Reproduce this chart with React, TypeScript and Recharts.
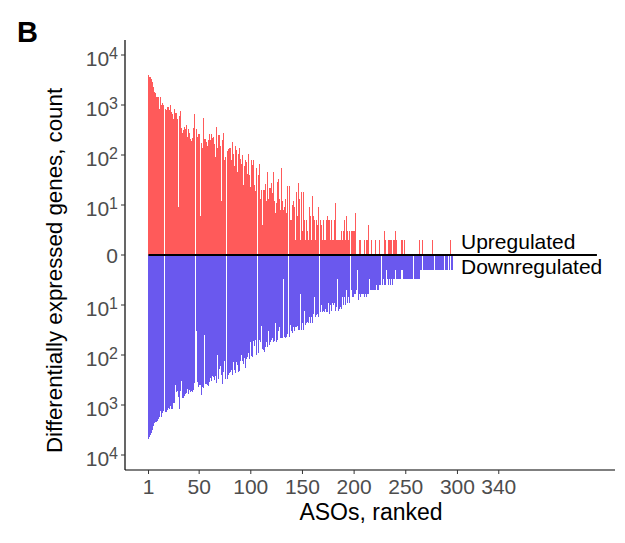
import React from 'react';
import { BarChart, Bar, XAxis, YAxis, ReferenceLine } from 'recharts';

// DE gene counts per ASO, ordered by rank (1 = most genes)
const upregulated = [
  3980, 3700, 3550, 3300, 2900, 2300, 1800, 1700, 1450, 1450,
  1450, 830, 1450, 1000, 1080, 1000, 830, 780, 930, 930,
  780, 980, 740, 660, 520, 850, 680, 680, 520, 9,
  590, 760, 340, 280, 316, 370, 330, 400, 225, 325,
  270, 210, 190, 215, 340, 660, 325, 233, 262, 262,
  6, 174, 138, 550, 210, 205, 186, 151, 200, 262,
  200, 262, 215, 233, 166, 93, 370, 141, 251, 251,
  151, 12, 200, 280, 81, 93, 123, 132, 141, 141,
  79, 182, 105, 60, 148, 126, 46, 107, 138, 85,
  66, 100, 25, 59, 79, 71, 42, 105, 40, 23,
  78, 63, 79, 25, 19, 56, 40, 66, 13, 20,
  4, 20, 20, 26, 12, 46, 13, 22, 22, 27,
  17, 46, 12, 7, 11, 29, 33, 13, 8, 55,
  12, 8, 9, 13, 7, 24, 24,
  5, 5, 10, 12, 9, 2, 18, 6, 28, 13,
  2, 18, 3, 18, 5, 2, 5, 3, 2, 9,
  6, 2, 15, 6, 5, 2, 5, 4, 9, 5,
  4, 2, 5, 2, 2, 5, 6, 5, 5, 2,
  5, 2, 2, 5, 11, 2, 2, 2, 2, 2,
  3, 2, 3, 5, 2, 6, 3, 2, 3, 3,
  3, 3, 3, 7, 0, 0, 0, 2, 2, 0,
  0, 0, 2, 0, 2, 2, 4, 0, 0, 2,
  0, 0, 0, 2, 0, 0, 0, 2, 0, 0,
  0, 3, 2, 0, 0, 2, 2, 2, 2, 0,
  2, 2, 3, 2, 0, 0, 0, 0, 2, 2,
  0, 2, 0, 0, 0, 0, 0, 0, 0, 0,
  0, 0, 0, 0, 0, 2, 0, 0, 2, 0,
  0, 0, 0, 0, 0, 0, 0, 0, 2, 0,
  0, 0, 0, 0, 0, 0, 0, 0, 0, 0,
  0, 0, 0, 0, 0, 2,
];

const downregulated = [
  4790, 4430, 4040, 3580, 3160, 2630, 2290, 2220, 2220, 2120,
  1940, 1710, 1320, 1710, 1470, 1320, 1360, 1400, 1260, 1130,
  1220, 1030, 1180, 1180, 900, 900, 400,
  541, 517, 681, 1180, 517, 331, 713, 713, 650, 603,
  584, 479, 612, 501, 550, 533, 550, 501, 358, 33,
  341, 430, 392, 392, 621, 430, 464, 40, 380,
  380, 392, 410, 352, 293, 326, 263, 280, 316, 263,
  369, 100, 307, 194, 166, 255, 386, 215, 132, 297,
  297, 251, 233, 219, 200, 251, 138, 200, 233,
  138, 158, 215, 209, 134, 100, 134, 151, 113, 179,
  120, 111, 93, 120, 55, 105, 108, 52, 66, 49,
  98, 90, 50, 56, 26, 75, 79, 86, 70,
  54, 68, 33, 63, 54, 51, 45, 54, 52, 23,
  56, 50, 33, 28, 46, 46, 46, 3, 44, 45,
  43, 38, 44, 25,
  33, 36, 28, 33, 27, 27, 26, 32, 31, 6,
  32, 23, 32, 13, 25, 23, 22, 23, 17, 23,
  17, 23, 15, 7, 17, 16, 15, 17, 14, 10,
  14, 13, 14, 12, 14, 14, 9, 15, 10, 13,
  9, 10, 9, 13, 11, 3, 13, 12, 11, 12,
  7, 10, 7, 10, 5, 9, 7, 9, 5, 7,
  7, 6, 6, 5, 2, 8, 6, 7, 6, 6,
  6, 7, 6, 7, 6, 6, 3, 5, 5, 5,
  5, 5, 5, 4, 5, 5, 4, 4, 4, 3,
  4, 4, 2, 3, 4, 3, 4, 3, 4, 3,
  3, 2, 3, 3, 3, 3, 3, 2, 2, 3,
  3, 3, 3, 3, 3, 3, 3, 3, 3, 3,
  3, 3, 3, 3, 3, 2,
  2, 1, 2, 2, 2, 2, 2, 2, 2, 2,
  2, 2, 2, 1, 2, 2, 2, 2, 2, 2,
  2, 2, 2, 2, 2, 2, 1, 2, 1, 2, 2,
];

const rankTicks = [1, 50, 100, 150, 200, 250, 300, 340];
const decadeTicks = [-4, -3, -2, -1, 0, 1, 2, 3, 4];
const slotCount = 452; // x axis runs past the last ranked ASO

const FONT = '"Liberation Sans", Arial, Helvetica, sans-serif';

const toLog = (n?: number) => (n && n > 1 ? Math.log10(n) : 0);

const data = Array.from({ length: slotCount }, (_, i) => ({
  rank: i + 1,
  up: toLog(upregulated[i]),
  down: -toLog(downregulated[i]),
}));

const DecadeTick = (props: any) => {
  const { x, y, payload } = props;
  const p = Math.abs(payload.value);
  return (
    <text x={x} y={y} textAnchor="end" fill="#4D4D4D" fontSize={21} fontFamily={FONT}>
      {p === 0 ? (
        <tspan dy="0.36em">0</tspan>
      ) : (
        <>
          <tspan dy={10.5}>10</tspan>
          <tspan dy={-7} fontSize={16}>{p}</tspan>
        </>
      )}
    </text>
  );
};

export default function App() {
  return (
    <div style={{ position: 'relative', width: 625, height: 543, margin: -8, background: '#fff' }}>
      <style>{`.recharts-bar-rectangle path { shape-rendering: crispEdges; }`}</style>
      <BarChart
        width={625}
        height={543}
        data={data}
        margin={{ top: 40, right: 10, bottom: 0, left: 0 }}
        stackOffset="sign"
        barCategoryGap={0}
        barGap={0}
      >
        <XAxis
          dataKey="rank"
          type="category"
          ticks={rankTicks}
          interval={0}
          padding={{ left: 23, right: 0 }}
          height={73}
          tickSize={4}
          tickMargin={5}
          axisLine={{ stroke: '#000', strokeWidth: 1.2 }}
          tickLine={{ stroke: '#333' }}
          tick={{ fill: '#4D4D4D', fontSize: 21, fontFamily: FONT }}
        />
        <YAxis
          type="number"
          domain={[-4.3, 4.3]}
          ticks={decadeTicks}
          interval={0}
          width={125}
          tickSize={4}
          tickMargin={3}
          allowDataOverflow
          axisLine={{ stroke: '#000', strokeWidth: 1.2 }}
          tickLine={{ stroke: '#333' }}
          tick={<DecadeTick />}
        />
        <Bar dataKey="up" stackId="de" fill="#FF5A5A" isAnimationActive={false} />
        <Bar dataKey="down" stackId="de" fill="#6A58EE" isAnimationActive={false} />
        <ReferenceLine
          segment={[{ x: 1, y: 0 }, { x: 435, y: 0 }]}
          stroke="#000"
          strokeWidth={2}
        />
      </BarChart>
      <svg
        width={625}
        height={543}
        style={{ position: 'absolute', left: 0, top: 0, pointerEvents: 'none' }}
        fontFamily={FONT}
      >
        <text x={17} y={42} fontSize={29} fontWeight="bold" fill="#000">B</text>
        <text
          transform="translate(62,270.5) rotate(-90)"
          textAnchor="middle"
          fontSize={22.3}
          fill="#000"
        >
          Differentially expressed genes, count
        </text>
        <text x={371} y={520} textAnchor="middle" fontSize={23} fill="#000">
          ASOs, ranked
        </text>
        <text x={461} y={249} fontSize={21} fill="#000">Upregulated</text>
        <text x={461} y={274} fontSize={21} fill="#000">Downregulated</text>
      </svg>
    </div>
  );
}
